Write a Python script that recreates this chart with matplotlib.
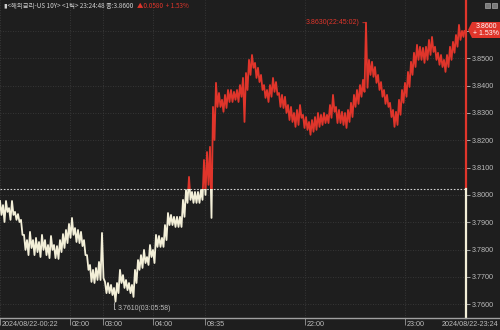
import matplotlib
matplotlib.use("Agg")
import matplotlib.pyplot as plt
from matplotlib import font_manager
from matplotlib.lines import Line2D
from matplotlib.patches import Rectangle, Polygon
from matplotlib.ticker import FuncFormatter

# 틱 데이터: 3px 구간별 고가 / 저가
hi = [3.7978, 3.7963, 3.7978, 3.7952, 3.7978, 3.7938, 3.7930, 3.7909, 3.7854, 3.7835,
      3.7865, 3.7835, 3.7843, 3.7828, 3.7854, 3.7835, 3.7817, 3.7850, 3.7817, 3.7813,
      3.7835, 3.7857, 3.7872, 3.7894, 3.7916, 3.7879, 3.7872, 3.7865, 3.7835, 3.7780,
      3.7744, 3.7726, 3.7733, 3.7755, 3.7861, 3.7682, 3.7678, 3.7671, 3.7660, 3.7678,
      3.7726, 3.7707, 3.7689, 3.7678, 3.7671, 3.7726, 3.7762, 3.7780, 3.7799, 3.7773,
      3.7817, 3.7799, 3.7854, 3.7850, 3.7843, 3.7890, 3.7934, 3.7927, 3.7920, 3.7920,
      3.7920, 3.7982, 3.8018, 3.8066, 3.8011, 3.8011, 3.8011, 3.8018, 3.8128, 3.8157,
      3.8176, 3.8322, 3.8410, 3.8373, 3.8348, 3.8366, 3.8384, 3.8384, 3.8377, 3.8384,
      3.8402, 3.8428, 3.8446, 3.8494, 3.8512, 3.8483, 3.8465, 3.8439, 3.8402, 3.8384,
      3.8402, 3.8428, 3.8413, 3.8373, 3.8366, 3.8359, 3.8329, 3.8322, 3.8300, 3.8311,
      3.8329, 3.8293, 3.8285, 3.8267, 3.8274, 3.8285, 3.8300, 3.8293, 3.8300, 3.8293,
      3.8329, 3.8366, 3.8322, 3.8311, 3.8304, 3.8300, 3.8311, 3.8337, 3.8366, 3.8384,
      3.8402, 3.8421, 3.8630, 3.8494, 3.8487, 3.8468, 3.8439, 3.8413, 3.8384, 3.8366,
      3.8337, 3.8311, 3.8304, 3.8348, 3.8384, 3.8410, 3.8450, 3.8487, 3.8520, 3.8549,
      3.8542, 3.8538, 3.8542, 3.8567, 3.8578, 3.8542, 3.8520, 3.8512, 3.8494, 3.8512,
      3.8542, 3.8560, 3.8585, 3.8622, 3.8600]
lo = [3.7927, 3.7901, 3.7938, 3.7909, 3.7927, 3.7909, 3.7901, 3.7854, 3.7799, 3.7780,
      3.7806, 3.7780, 3.7791, 3.7773, 3.7799, 3.7780, 3.7769, 3.7799, 3.7769, 3.7766,
      3.7791, 3.7806, 3.7824, 3.7843, 3.7854, 3.7828, 3.7824, 3.7813, 3.7780, 3.7726,
      3.7682, 3.7678, 3.7689, 3.7689, 3.7696, 3.7641, 3.7641, 3.7634, 3.7610, 3.7641,
      3.7678, 3.7660, 3.7652, 3.7641, 3.7627, 3.7678, 3.7726, 3.7733, 3.7751, 3.7744,
      3.7773, 3.7751, 3.7810, 3.7810, 3.7810, 3.7835, 3.7890, 3.7890, 3.7883, 3.7883,
      3.7883, 3.7920, 3.7971, 3.7982, 3.7971, 3.7971, 3.7971, 3.7982, 3.8000, 3.8037,
      3.7916, 3.8201, 3.8322, 3.8322, 3.8304, 3.8318, 3.8340, 3.8340, 3.8348, 3.8340,
      3.8359, 3.8267, 3.8384, 3.8439, 3.8465, 3.8428, 3.8413, 3.8384, 3.8355, 3.8340,
      3.8359, 3.8377, 3.8366, 3.8322, 3.8318, 3.8300, 3.8274, 3.8267, 3.8249, 3.8256,
      3.8282, 3.8245, 3.8238, 3.8220, 3.8231, 3.8238, 3.8249, 3.8256, 3.8263, 3.8263,
      3.8282, 3.8304, 3.8263, 3.8263, 3.8256, 3.8245, 3.8267, 3.8285, 3.8322, 3.8333,
      3.8359, 3.8377, 3.8392, 3.8439, 3.8432, 3.8410, 3.8384, 3.8359, 3.8333, 3.8322,
      3.8285, 3.8249, 3.8256, 3.8293, 3.8337, 3.8359, 3.8395, 3.8439, 3.8468, 3.8494,
      3.8494, 3.8483, 3.8494, 3.8512, 3.8523, 3.8494, 3.8476, 3.8468, 3.8450, 3.8468,
      3.8494, 3.8520, 3.8542, 3.8567, 3.8578]
last_price = 3.8600
prev_close = 3.8020
high_idx, high_val, high_lbl = 122, 3.8630, "3.8630(22:45:02)"
low_idx, low_val, low_lbl = 38, 3.7610, "3.7610(03:05:58)"
time_pos = [0, 23.3, 34.3, 51, 68.3, 101.7, 135]
time_lbl = ["2024/08/22-00:22", "02:00", "03:00", "04:00", "08:35", "22:00", "23:00"]
end_lbl = "2024/08/22-23:24"
y_ticks = [3.76, 3.77, 3.78, 3.79, 3.80, 3.81, 3.82, 3.83, 3.84, 3.85, 3.86]
title_txt = "▮<해외금리-US 10Y> <1틱> 23:24:48 종:3.8600"
chg_txt = "▲0.0580  + 1.53%"

BG = "#1e1e1e"
RED = "#e0352b"
WHITE = "#f3efd8"
GREY = "#bcbcbc"

names = {f.name for f in font_manager.fontManager.ttflist}
NUM_FONT = "Liberation Sans Narrow" if "Liberation Sans Narrow" in names else "Liberation Sans"
KR = ["Noto Sans CJK KR", "DejaVu Sans"]

W, H = 500, 330
fig = plt.figure(figsize=(W / 100, H / 100), dpi=100, facecolor=BG)
ax = fig.add_axes([0, 12 / H, 466 / W, 318 / H])
ax.set_facecolor(BG)

xmax = 466 / 3
ax.set_xlim(0, xmax)
ax.set_ylim(3.7550, 3.8713)

# 구간마다 고가 -> 저가로 지그재그
xs, ys = [], []
for i, (h, l) in enumerate(zip(hi, lo)):
    xs += [i, i + 0.5]
    ys += [h, l]
xs.append(len(hi) - 0.2)
ys.append(last_price)

red_line, = ax.plot(xs, ys, color=RED, lw=1.3, zorder=3)
red_line.set_clip_path(Rectangle((-10, prev_close), 300, 1, transform=ax.transData))
white_line, = ax.plot(xs, ys, color=WHITE, lw=1.3, zorder=3)
white_line.set_clip_path(Rectangle((-10, prev_close - 1), 300, 1, transform=ax.transData))

# 전일종가 점선
ax.axhline(prev_close, color="#d0d0d0", lw=0.8, ls=(0, (1.5, 1.5)), zorder=2)

# 그리드
ax.set_xticks(time_pos)
ax.set_xticklabels([])
ax.set_yticks(y_ticks)
# 3.8600 자리는 현재가 박스가 가림
ax.yaxis.set_major_formatter(FuncFormatter(lambda v, p: "" if v > 3.855 else f"{v:.4f}"))
ax.grid(True, color="#3e3e3e", lw=0.6, ls=(0, (1, 2)))
for s in ax.spines.values():
    s.set_visible(False)
ax.yaxis.tick_right()
ax.tick_params(axis="y", length=3, width=0.6, pad=1, colors=GREY, labelsize=5.2)
for t in ax.get_yticklabels():
    t.set_fontfamily(NUM_FONT)
ax.tick_params(axis="x", length=5, width=0.6, color="#9a9a9a", direction="out")

for p, lbl in zip(time_pos, time_lbl):
    ax.annotate(lbl, xy=(p, 0), xycoords=("data", "axes fraction"), xytext=(1.5, -2.5),
                textcoords="offset pixels", ha="left", va="top", color=GREY,
                fontsize=5.2, family=NUM_FONT, annotation_clip=False)
fig.text(498 / W, 6 / H, end_lbl, ha="right", va="center", color=GREY,
         fontsize=5.2, family=NUM_FONT)

# x축 선
fig.add_artist(Line2D([0, 1], [12 / H, 12 / H], transform=fig.transFigure,
                      color="#a0a0a0", lw=1.0))

# 현재가 세로선
ax.plot([xmax, xmax], [prev_close, 3.8713], color=RED, lw=1.6, clip_on=False, zorder=4)
ax.plot([xmax, xmax], [3.7550, prev_close], color=WHITE, lw=1.6, clip_on=False, zorder=4)

# 최고 / 최저 표시
ax.annotate(high_lbl, xy=(high_idx, high_val), xytext=(-6, 0), textcoords="offset pixels",
            ha="right", va="center", color=RED, fontsize=5.0, family=NUM_FONT,
            arrowprops=dict(arrowstyle="-", color=RED, lw=0.6, shrinkA=0, shrinkB=0))
ax.annotate(low_lbl, xy=(low_idx, low_val), xytext=(4, -7), textcoords="offset pixels",
            ha="left", va="center", color=GREY, fontsize=5.0, family=NUM_FONT,
            arrowprops=dict(arrowstyle="-", color=GREY, lw=0.6, shrinkA=0, shrinkB=0,
                            connectionstyle="angle,angleA=0,angleB=90,rad=0"))

# 현재가 박스
box = [(468, 30), (472, 22), (500, 22), (500, 38), (472, 38)]
fig.add_artist(Polygon([(x / W, 1 - y / H) for x, y in box], closed=True,
                       transform=fig.transFigure, facecolor=RED, edgecolor="none"))
fig.text(486 / W, 1 - 30 / H, "3.8600\n+ 1.53%", ha="center", va="center", color="white",
         fontsize=5.0, family=NUM_FONT, linespacing=1.1)

# 우상단 아이콘
for x0 in (485, 492):
    fig.add_artist(Rectangle((x0 / W, 1 - 8 / H), 5 / W, 5 / H, transform=fig.transFigure,
                             facecolor="#7a7a7a", edgecolor="#bdbdbd", lw=0.4))

# 제목
t1 = fig.text(4 / W, 1 - 6 / H, title_txt, ha="left", va="center", color="#d0d0d0",
              fontsize=4.6, family=KR)
fig.canvas.draw()
bb = t1.get_window_extent()
fig.text((bb.x1 + 4) / W, 1 - 6 / H, chg_txt, ha="left", va="center", color=RED,
         fontsize=4.6, family=KR)

fig.savefig("out.png", dpi=100, facecolor=BG)
